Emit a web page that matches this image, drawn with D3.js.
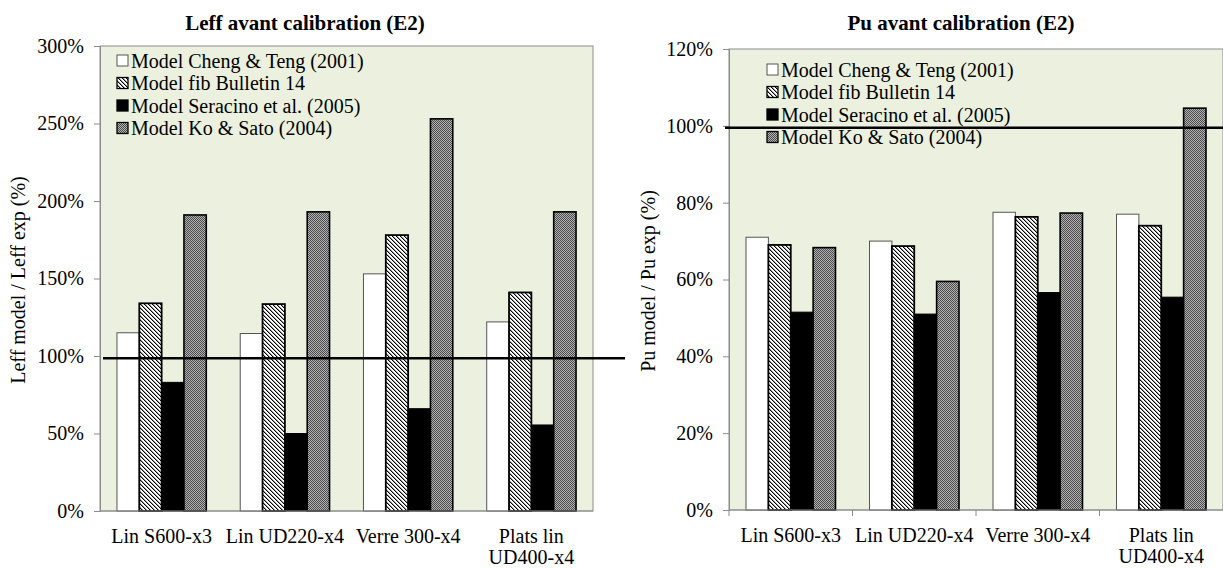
<!DOCTYPE html>
<html><head><meta charset="utf-8">
<script src="https://cdn.jsdelivr.net/npm/d3@7"></script>
<style>
body{margin:0;background:#fff;}
svg text{font-family:"Liberation Serif","Times New Roman",serif;fill:#000;}
</style></head>
<body><svg id="c" width="1223" height="568"></svg>
<script>
const categories = ["Lin S600-x3", "Lin UD220-x4", "Verre 300-x4", "Plats lin|UD400-x4"];
const seriesNames = ["Model Cheng & Teng (2001)", "Model fib Bulletin 14", "Model Seracino et al. (2005)", "Model Ko & Sato (2004)"];
// Leff model / Leff exp (fraction)
const leffCheng    = [1.15, 1.145, 1.53, 1.22];
const leffFib      = [1.34, 1.335, 1.78, 1.41];
const leffSeracino = [0.83, 0.50, 0.66, 0.555];
const leffKo       = [1.91, 1.93, 2.53, 1.93];
const leffRef = 0.985;
const leffTicks = [0, 0.5, 1, 1.5, 2, 2.5, 3];
// Pu model / Pu exp (fraction)
const puCheng    = [0.71, 0.70, 0.775, 0.77];
const puFib      = [0.69, 0.687, 0.763, 0.74];
const puSeracino = [0.515, 0.51, 0.566, 0.554];
const puKo       = [0.683, 0.595, 0.773, 1.046];
const puRef = 0.995;
const puTicks = [0, 0.2, 0.4, 0.6, 0.8, 1.0, 1.2];

const svg = d3.select("#c");
const defs = svg.append("defs");
const hp = defs.append("pattern").attr("id","hatch").attr("patternUnits","userSpaceOnUse").attr("width",4).attr("height",4);
hp.append("rect").attr("width",4).attr("height",4).attr("fill","#fff");
d3.range(4).forEach(k=>{
  hp.append("rect").attr("x",k).attr("y",k).attr("width",1).attr("height",1).attr("fill","#000").attr("shape-rendering","crispEdges");
  hp.append("rect").attr("x",(k+1)%4).attr("y",k).attr("width",1).attr("height",1).attr("fill","#999").attr("shape-rendering","crispEdges");
});
const cp = defs.append("pattern").attr("id","check").attr("patternUnits","userSpaceOnUse").attr("width",2).attr("height",2);
cp.append("rect").attr("width",2).attr("height",2).attr("fill","#b4b4b4");
cp.append("rect").attr("width",1).attr("height",1).attr("fill","#4a4a4a");
cp.append("rect").attr("x",1).attr("y",1).attr("width",1).attr("height",1).attr("fill","#4a4a4a");

const styles = [
  {fill:"#fff", stroke:"#555", sw:1},
  {fill:"url(#hatch)", stroke:"#000", sw:1.8},
  {fill:"#000", stroke:"#000", sw:1},
  {fill:"url(#check)", stroke:"#000", sw:1.6}
];

function chart(cfg){
  const g = svg.append("g");
  const x0 = d3.scaleBand().domain(categories).range([cfg.x0, cfg.x1]).padding(0);
  const x1 = d3.scaleBand().domain(seriesNames).range([0, x0.bandwidth()]).paddingInner(0).paddingOuter(0.76);
  const y = d3.scaleLinear().domain([0, cfg.max]).range([cfg.yb, cfg.yt]);
  g.append("rect").attr("x",cfg.x0).attr("y",cfg.yt).attr("width",cfg.x1-cfg.x0).attr("height",cfg.yb-cfg.yt)
    .attr("fill","#ebf1de").attr("stroke","#8c8c8c").attr("stroke-width",1);
  const ya = g.append("g").attr("transform",`translate(${cfg.x0},0)`)
    .call(d3.axisLeft(y).tickValues(cfg.ticks).tickFormat(d3.format(".0%")).tickSize(6).tickPadding(10));
  ya.select(".domain").attr("stroke","#8c8c8c");
  ya.selectAll(".tick line").attr("stroke","#8c8c8c");
  ya.selectAll("text").attr("font-size",20).attr("font-family","Liberation Serif");
  const data = cfg.series;
  seriesNames.forEach((s,si)=>{
    g.append("g").selectAll("rect").data(categories).join("rect")
      .attr("x",c=>x0(c)+x1(s)).attr("width",x1.bandwidth())
      .attr("y",(c,i)=>y(data[si][i])).attr("height",(c,i)=>y(0)-y(data[si][i]))
      .attr("fill",styles[si].fill).attr("stroke",styles[si].stroke).attr("stroke-width",styles[si].sw);
  });
  g.append("line").attr("x1",cfg.x0).attr("x2",cfg.x1).attr("y1",cfg.yb).attr("y2",cfg.yb).attr("stroke","#8c8c8c");
  if(cfg.xticks){
    const edges = categories.map(c=>x0(c));
    g.selectAll(".xt").data(edges).join("line").attr("x1",d=>d).attr("x2",d=>d)
      .attr("y1",cfg.yb).attr("y2",cfg.yb+6).attr("stroke","#8c8c8c");
  }
  categories.forEach(c=>{
    const lines = c.split("|");
    const t = g.append("text").attr("x",x0(c)+x0.bandwidth()/2).attr("y",cfg.yb+32)
      .attr("text-anchor","middle").attr("font-size",20);
    lines.forEach((l,i)=>t.append("tspan").attr("x",x0(c)+x0.bandwidth()/2).attr("dy",i?21:0).text(l));
  });
  g.append("line").attr("x1",cfg.lx0).attr("x2",cfg.lx1).attr("y1",y(cfg.ref)).attr("y2",y(cfg.ref))
    .attr("stroke","#000").attr("stroke-width",2.5);
  seriesNames.forEach((s,i)=>{
    const ly = cfg.legY + i*22.5;
    g.append("rect").attr("x",cfg.legX).attr("y",ly-6).attr("width",11).attr("height",11)
      .attr("fill",styles[i].fill).attr("stroke",styles[i].stroke).attr("stroke-width",i===0?1:1.3);
    g.append("text").attr("x",cfg.legX+14).attr("y",ly+6.5).attr("font-size",20).text(s);
  });
  g.append("text").attr("x",cfg.tx).attr("y",30).attr("text-anchor","middle").attr("font-size",21)
    .attr("font-weight","bold").text(cfg.title);
  g.append("text").attr("transform",`translate(${cfg.ylx},${cfg.yly}) rotate(-90)`)
    .attr("text-anchor","middle").attr("font-size",20).text(cfg.ylabel);
}

chart({x0:100, x1:593, yt:46, yb:511, max:3, ticks:leffTicks,
  series:[leffCheng, leffFib, leffSeracino, leffKo], ref:leffRef, lx0:103, lx1:625,
  legX:117, legY:61, xticks:false, tx:305, title:"Leff avant calibration (E2)",
  ylabel:"Leff model / Leff exp (%)", ylx:25, yly:280});
chart({x0:729, x1:1223, yt:49, yb:510, max:1.2, ticks:puTicks,
  series:[puCheng, puFib, puSeracino, puKo], ref:puRef, lx0:725, lx1:1223,
  legX:767, legY:70, xticks:true, tx:961, title:"Pu avant calibration (E2)",
  ylabel:"Pu model / Pu exp (%)", ylx:655, yly:281});
</script></body></html>
